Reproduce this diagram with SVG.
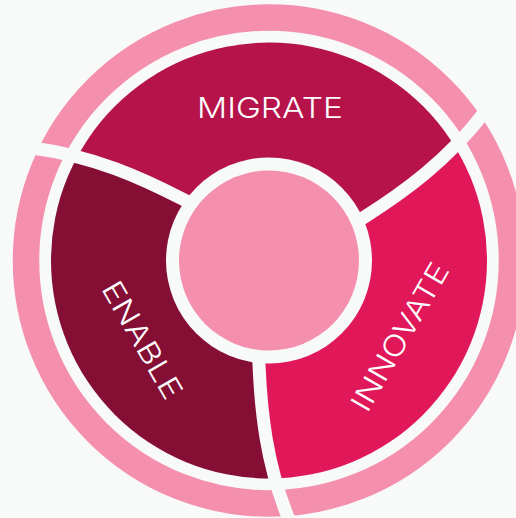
<svg xmlns="http://www.w3.org/2000/svg" width="516" height="518" viewBox="0 0 516 518">
<defs>
<style>
.lbl{fill:#ffffff;font-family:Inter,Lato,"Liberation Sans",sans-serif;font-weight:300;font-size:29px;text-anchor:middle}
.gap{fill:none;stroke:#f8f9f9;stroke-width:13}
</style>
<clipPath id="segclip"><circle cx="269" cy="260.5" r="218"/></clipPath>
<path id="divider" d="M258.6,356 L259,365 C261,410 266,465 290,522"/>
</defs>
<rect width="516" height="518" fill="#f8f9f9"/>
<g id="outer-ring">
<circle cx="269" cy="260.5" r="243" fill="none" stroke="#f48fae" stroke-width="26.5"/>
</g>
<g id="migrate">
<path clip-path="url(#segclip)" fill="#b5134a" d="M269,260.5 L183.5,199.59 C143.53,178.82 93.40,155.65 32.04,147.94 A262.34,262.34 0 0 1 484.96,111.56 C447.60,160.85 402.47,192.68 364.50,216.91 Z"/>
</g>
<g id="innovate">
<path clip-path="url(#segclip)" fill="#e0185a" d="M269,260.5 L364.50,216.91 C402.47,192.68 447.60,160.85 484.96,111.56 A262.34,262.34 0 0 1 290,522 C266,465 261,410 259,365 Z"/>
</g>
<g id="enable">
<path clip-path="url(#segclip)" fill="#850e35" d="M269,260.5 L259,365 C261,410 266,465 290,522 A262.34,262.34 0 0 1 32.04,147.94 C93.40,155.65 143.53,178.82 183.5,199.59 Z"/>
</g>
<g id="connectors">
<use href="#divider" class="gap"/>
<use href="#divider" class="gap" transform="rotate(120 269 260.5)"/>
<use href="#divider" class="gap" transform="rotate(240 269 260.5)"/>
</g>
<g id="center">
<circle cx="269" cy="260.5" r="103" fill="#f8f9f9"/>
<circle cx="269" cy="260.5" r="90" fill="#f48fae"/>
</g>
<g id="labels">
<text class="lbl" x="270" y="118" textLength="146" lengthAdjust="spacingAndGlyphs">MIGRATE</text>
<text class="lbl" transform="translate(142.5,340) rotate(60)" x="0" y="10.5" textLength="131" lengthAdjust="spacingAndGlyphs">ENABLE</text>
<text class="lbl" transform="translate(399.7,336.5) rotate(-60)" x="0" y="10.5" textLength="166" lengthAdjust="spacingAndGlyphs">INNOVATE</text>
</g>
</svg>
